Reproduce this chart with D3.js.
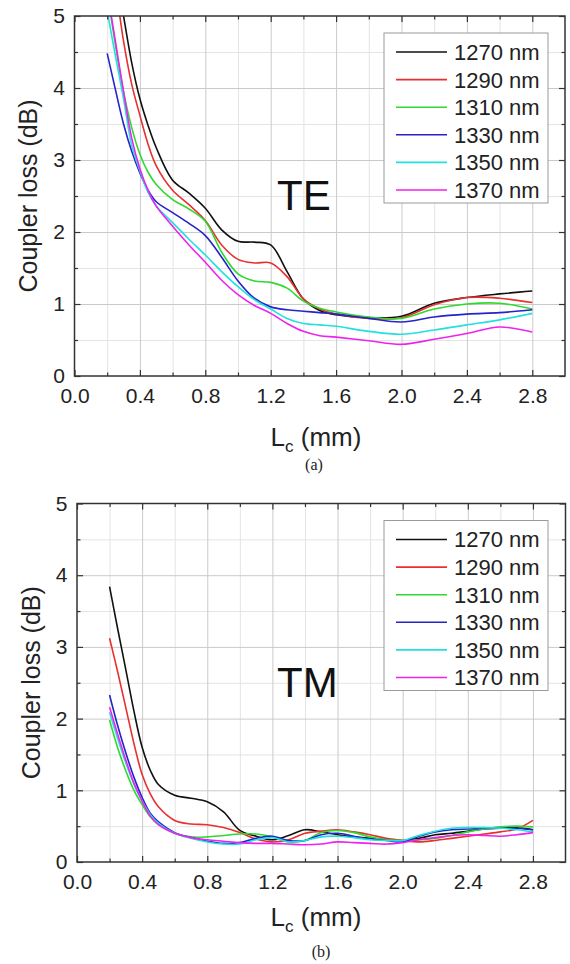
<!DOCTYPE html>
<html>
<head>
<meta charset="utf-8">
<script src="https://cdn.jsdelivr.net/npm/d3@7"></script>
<style>
  html, body { margin: 0; padding: 0; background: #fff; }
  svg { display: block; }
  .tick text { font-family: "Liberation Sans", Arial, sans-serif; }
</style>
</head>
<body>
<div id="chart"></div>
<script>
// coupler length (mm) and loss (dB)
var teX = [0.2, 0.25, 0.3, 0.35, 0.4, 0.45, 0.5, 0.6, 0.7, 0.8, 0.9, 1.0, 1.1, 1.2, 1.3, 1.4, 1.5, 1.6, 1.8, 2.0, 2.2, 2.4, 2.6, 2.8];
var te1270 = [6.4, 5.65, 5.0, 4.35, 3.85, 3.48, 3.17, 2.72, 2.54, 2.33, 2.03, 1.87, 1.86, 1.82, 1.45, 1.07, 0.91, 0.85, 0.81, 0.83, 1.01, 1.09, 1.14, 1.18];
var te1290 = [6.3, 5.45, 4.65, 4.05, 3.62, 3.22, 2.92, 2.58, 2.38, 2.16, 1.82, 1.62, 1.57, 1.57, 1.38, 1.07, 0.93, 0.86, 0.80, 0.81, 0.99, 1.09, 1.08, 1.02];
var te1310 = [5.35, 4.6, 3.95, 3.45, 3.08, 2.83, 2.66, 2.45, 2.32, 2.15, 1.72, 1.42, 1.32, 1.30, 1.22, 1.04, 0.94, 0.89, 0.82, 0.80, 0.93, 1.00, 1.01, 0.93];
var te1330 = [4.48, 3.98, 3.5, 3.12, 2.82, 2.58, 2.42, 2.27, 2.12, 1.95, 1.65, 1.32, 1.08, 0.96, 0.92, 0.90, 0.88, 0.86, 0.80, 0.75, 0.82, 0.86, 0.88, 0.92];
var te1350 = [5.07, 4.45, 3.85, 3.2, 2.85, 2.55, 2.36, 2.13, 1.90, 1.68, 1.45, 1.24, 1.06, 0.93, 0.80, 0.73, 0.71, 0.69, 0.62, 0.58, 0.64, 0.71, 0.78, 0.87];
var te1370 = [5.35, 4.65, 3.95, 3.3, 2.88, 2.58, 2.36, 2.08, 1.82, 1.58, 1.33, 1.13, 0.98, 0.87, 0.73, 0.62, 0.56, 0.54, 0.49, 0.44, 0.51, 0.59, 0.68, 0.61];

var tmX = [0.2, 0.25, 0.3, 0.35, 0.4, 0.45, 0.5, 0.6, 0.7, 0.8, 0.9, 1.0, 1.1, 1.2, 1.3, 1.4, 1.5, 1.6, 1.7, 1.8, 1.9, 2.0, 2.1, 2.2, 2.3, 2.4, 2.5, 2.6, 2.7, 2.8];
var tm1270 = [3.84, 3.25, 2.68, 2.1, 1.6, 1.28, 1.08, 0.93, 0.89, 0.84, 0.70, 0.44, 0.36, 0.31, 0.37, 0.45, 0.42, 0.38, 0.35, 0.33, 0.31, 0.30, 0.33, 0.38, 0.40, 0.43, 0.46, 0.47, 0.48, 0.45];
var tm1290 = [3.12, 2.65, 2.15, 1.65, 1.22, 0.95, 0.77, 0.58, 0.53, 0.52, 0.48, 0.41, 0.32, 0.28, 0.31, 0.40, 0.43, 0.45, 0.42, 0.38, 0.33, 0.30, 0.28, 0.30, 0.33, 0.36, 0.39, 0.42, 0.46, 0.58];
var tm1310 = [1.98, 1.59, 1.27, 1.0, 0.8, 0.63, 0.52, 0.40, 0.35, 0.35, 0.37, 0.39, 0.39, 0.35, 0.28, 0.30, 0.41, 0.44, 0.41, 0.35, 0.31, 0.30, 0.31, 0.33, 0.37, 0.42, 0.46, 0.49, 0.50, 0.49];
var tm1330 = [2.33, 1.9, 1.52, 1.18, 0.9, 0.68, 0.56, 0.41, 0.34, 0.29, 0.26, 0.27, 0.33, 0.36, 0.30, 0.30, 0.38, 0.40, 0.36, 0.32, 0.30, 0.28, 0.36, 0.42, 0.45, 0.46, 0.47, 0.47, 0.47, 0.45];
var tm1350 = [2.09, 1.72, 1.38, 1.08, 0.85, 0.66, 0.54, 0.40, 0.33, 0.28, 0.25, 0.25, 0.31, 0.34, 0.28, 0.30, 0.35, 0.36, 0.34, 0.31, 0.30, 0.30, 0.37, 0.43, 0.47, 0.48, 0.48, 0.47, 0.45, 0.42];
var tm1370 = [2.16, 1.78, 1.42, 1.1, 0.85, 0.64, 0.52, 0.40, 0.34, 0.31, 0.29, 0.27, 0.26, 0.26, 0.25, 0.24, 0.25, 0.28, 0.27, 0.26, 0.25, 0.27, 0.31, 0.34, 0.37, 0.38, 0.37, 0.36, 0.38, 0.41];

var wavelengths = ["1270 nm", "1290 nm", "1310 nm", "1330 nm", "1350 nm", "1370 nm"];
var colors = ["#111111", "#e8302f", "#2fd92f", "#2424c8", "#22e0e0", "#ee22ee"];
var xMajor = [0.0, 0.4, 0.8, 1.2, 1.6, 2.0, 2.4, 2.8];
var xMinor = [0.2, 0.6, 1.0, 1.4, 1.8, 2.2, 2.6];
var yMajor = [0, 1, 2, 3, 4, 5];
var yMinor = [0.5, 1.5, 2.5, 3.5, 4.5];

var width = 570, height = 964;
var sans = '"Liberation Sans", Arial, sans-serif';

var svg = d3.select("#chart").append("svg")
    .attr("width", width)
    .attr("height", height);

var panels = [
    { id: "te", left: 74.5, right: 565, top: 16, bottom: 376, titleY: 446, yTitleX: 37,
      mode: "TE", tag: "(a)", tagX: 314, tagY: 470, xs: teX,
      ys: [te1270, te1290, te1310, te1330, te1350, te1370] },
    { id: "tm", left: 77, right: 565.5, top: 503.5, bottom: 862, titleY: 926, yTitleX: 40,
      mode: "TM", tag: "(b)", tagX: 321, tagY: 957, xs: tmX,
      ys: [tm1270, tm1290, tm1310, tm1330, tm1350, tm1370] }
];

panels.forEach(function (p) {
    var w = p.right - p.left, h = p.bottom - p.top;
    var x = d3.scaleLinear().domain([0, 3.0]).range([p.left, p.right]);
    var y = d3.scaleLinear().domain([0, 5]).range([p.bottom, p.top]);

    var g = svg.append("g");

    // grid: minor first, major on top
    g.append("g").attr("transform", "translate(0," + p.bottom + ")")
        .call(d3.axisBottom(x).tickValues(xMinor).tickSize(-h).tickFormat(""))
        .call(function (s) { s.select(".domain").remove(); s.selectAll("line").attr("stroke", "#e4e4e4"); });
    g.append("g").attr("transform", "translate(" + p.left + ",0)")
        .call(d3.axisLeft(y).tickValues(yMinor).tickSize(-w).tickFormat(""))
        .call(function (s) { s.select(".domain").remove(); s.selectAll("line").attr("stroke", "#e4e4e4"); });
    g.append("g").attr("transform", "translate(0," + p.bottom + ")")
        .call(d3.axisBottom(x).tickValues(xMajor.slice(1)).tickSize(-h).tickFormat(""))
        .call(function (s) { s.select(".domain").remove(); s.selectAll("line").attr("stroke", "#cacaca"); });
    g.append("g").attr("transform", "translate(" + p.left + ",0)")
        .call(d3.axisLeft(y).tickValues(yMajor.slice(1, 5)).tickSize(-w).tickFormat(""))
        .call(function (s) { s.select(".domain").remove(); s.selectAll("line").attr("stroke", "#cacaca"); });

    // curves
    var clipId = "clip-" + p.id;
    svg.append("clipPath").attr("id", clipId).append("rect")
        .attr("x", p.left).attr("y", p.top).attr("width", w).attr("height", h);
    var line = d3.line()
        .x(function (d) { return x(d[0]); })
        .y(function (d) { return y(d[1]); })
        .curve(d3.curveCatmullRom.alpha(0.5));
    g.append("g").attr("clip-path", "url(#" + clipId + ")")
        .selectAll("path")
        .data(p.ys)
        .enter()
        .append("path")
        .attr("d", function (vals) { return line(vals.map(function (v, i) { return [p.xs[i], v]; })); })
        .attr("fill", "none")
        .attr("stroke", function (d, i) { return colors[i]; })
        .attr("stroke-width", 1.6);

    // inward ticks on all four sides
    var tickStyle = function (s) {
        s.select(".domain").remove();
        s.selectAll("line").attr("stroke", "#333").attr("stroke-width", 1.2);
        s.selectAll("text").attr("fill", "#222").style("font-size", "21px").style("font-family", sans);
    };
    g.append("g").attr("transform", "translate(0," + p.bottom + ")")
        .call(d3.axisBottom(x).tickValues(xMajor).tickSize(-6).tickPadding(12).tickFormat(d3.format(".1f")))
        .call(tickStyle);
    g.append("g").attr("transform", "translate(0," + p.bottom + ")")
        .call(d3.axisBottom(x).tickValues(xMinor).tickSize(-3.5).tickFormat("")).call(tickStyle);
    g.append("g").attr("transform", "translate(0," + p.top + ")")
        .call(d3.axisTop(x).tickValues(xMajor).tickSize(-6).tickFormat("")).call(tickStyle);
    g.append("g").attr("transform", "translate(0," + p.top + ")")
        .call(d3.axisTop(x).tickValues(xMinor).tickSize(-3.5).tickFormat("")).call(tickStyle);
    g.append("g").attr("transform", "translate(" + p.left + ",0)")
        .call(d3.axisLeft(y).tickValues(yMajor).tickSize(-6).tickPadding(9.5).tickFormat(d3.format("d")))
        .call(tickStyle);
    g.append("g").attr("transform", "translate(" + p.left + ",0)")
        .call(d3.axisLeft(y).tickValues(yMinor).tickSize(-3.5).tickFormat("")).call(tickStyle);
    g.append("g").attr("transform", "translate(" + p.right + ",0)")
        .call(d3.axisRight(y).tickValues(yMajor).tickSize(-6).tickFormat("")).call(tickStyle);
    g.append("g").attr("transform", "translate(" + p.right + ",0)")
        .call(d3.axisRight(y).tickValues(yMinor).tickSize(-3.5).tickFormat("")).call(tickStyle);

    // frame
    g.append("rect")
        .attr("x", p.left).attr("y", p.top).attr("width", w).attr("height", h)
        .attr("fill", "none").attr("stroke", "#333").attr("stroke-width", 1.5);

    // legend
    var lx = 384, ly = p.top + 17;
    var legend = g.append("g");
    legend.append("rect")
        .attr("x", lx).attr("y", ly).attr("width", 164).attr("height", 170)
        .attr("fill", "#fff").attr("stroke", "#9a9a9a").attr("stroke-width", 1);
    wavelengths.forEach(function (name, i) {
        var ry = ly + 19 + i * 27.6;
        legend.append("line")
            .attr("x1", lx + 12).attr("x2", lx + 63).attr("y1", ry).attr("y2", ry)
            .attr("stroke", colors[i]).attr("stroke-width", 1.6);
        legend.append("text")
            .attr("x", lx + 70).attr("y", ry).attr("dy", "0.36em")
            .style("font-family", sans).style("font-size", "22px").attr("fill", "#222")
            .text(name);
    });

    // polarisation tag
    g.append("text")
        .attr("x", 277).attr("y", p.top + 193.5)
        .style("font-family", sans).style("font-size", "42px").attr("fill", "#111")
        .text(p.mode);

    // axis titles
    var xt = g.append("text")
        .attr("x", 316).attr("y", p.titleY).attr("text-anchor", "middle")
        .style("font-family", sans).style("font-size", "26px").attr("fill", "#222");
    xt.append("tspan").text("L");
    xt.append("tspan").attr("dy", 6).style("font-size", "17px").text("c");
    xt.append("tspan").attr("dy", -6).text(" (mm)");

    g.append("text")
        .attr("transform", "translate(" + p.yTitleX + "," + ((p.top + p.bottom) / 2) + ") rotate(-90)")
        .attr("text-anchor", "middle")
        .style("font-family", sans).style("font-size", "25px").attr("fill", "#222")
        .text("Coupler loss (dB)");

    g.append("text")
        .attr("x", p.tagX).attr("y", p.tagY).attr("text-anchor", "middle")
        .style("font-family", '"Liberation Serif", "Times New Roman", serif').style("font-size", "16px")
        .attr("fill", "#222")
        .text(p.tag);
});
</script>
</body>
</html>
